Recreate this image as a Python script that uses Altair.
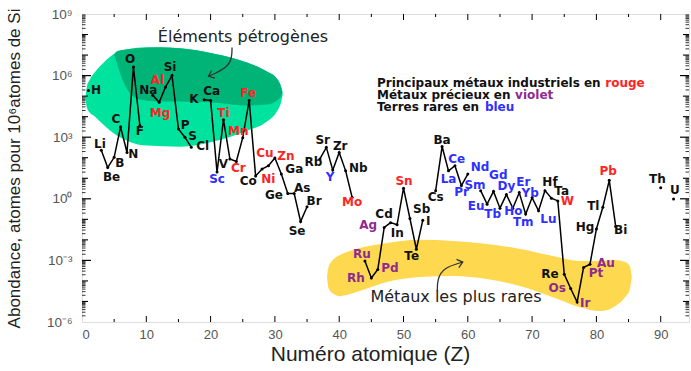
import altair as alt
import pandas as pd

# ---- frame -------------------------------------------------------------
WIDTH, HEIGHT = 607, 308
Z_MAX = 94.4
A_MIN, A_MAX = 1e-6, 1e9
PX_PER_Z = WIDTH / Z_MAX
PX_PER_DECADE = HEIGHT / 15

# ---- crustal abundance, atoms per 10^6 atoms of Si -----------------------
symbols = ["H", "Li", "Be", "B", "C", "N", "O", "F",
           "Na", "Mg", "Al", "Si", "P", "S", "Cl",
           "K", "Ca", "Sc", "Ti", "V", "Cr", "Mn", "Fe", "Co", "Ni", "Cu", "Zn",
           "Ga", "Ge", "As", "Se", "Br",
           "Rb", "Sr", "Y", "Zr", "Nb", "Mo",
           "Ru", "Rh", "Pd", "Ag", "Cd", "In", "Sn", "Sb", "Te", "I",
           "Cs", "Ba", "La", "Ce", "Pr", "Nd",
           "Sm", "Eu", "Gd", "Tb", "Dy", "Ho", "Er", "Tm", "Yb", "Lu",
           "Hf", "Ta", "W", "Re", "Os", "Ir", "Pt", "Au", "Hg", "Tl", "Pb", "Bi",
           "Th", "U"]
atomic_numbers = [1, 3, 4, 5, 6, 7, 8, 9,
                  11, 12, 13, 14, 15, 16, 17,
                  19, 20, 21, 22, 23, 24, 25, 26, 27, 28, 29, 30,
                  31, 32, 33, 34, 35,
                  37, 38, 39, 40, 41, 42,
                  44, 45, 46, 47, 48, 49, 50, 51, 52, 53,
                  55, 56, 57, 58, 59, 60,
                  62, 63, 64, 65, 66, 67, 68, 69, 70, 71,
                  72, 73, 74, 75, 76, 77, 78, 79, 80, 81, 82, 83,
                  90, 92]
abundances = [1.9e5, 230, 33, 105, 3.2e3, 180, 2.6e6, 3.7e3,
              1.1e5, 5.0e4, 2.8e5, 1.0e6, 2.5e3, 1.0e3, 320,
              6.6e4, 6.2e4, 20, 7.1e3, 87, 66, 950, 6.2e4, 13, 28, 41, 98,
              16, 1.8, 1.8, 0.078, 0.41,
              87, 320, 25, 180, 23, 1.2,
              9.3e-4, 1.4e-4, 3.6e-4, 0.040, 0.069, 0.054, 3.3, 0.11, 3.5e-3, 0.091,
              2.5, 350, 23, 41, 4.4, 16,
              2.5, 0.55, 2.3, 0.35, 1.6, 0.35, 2.0, 0.18, 1.15, 0.26,
              2.5, 1.07, 0.79, 2.1e-4, 4.3e-5, 9.3e-6, 4.5e-4, 6.5e-4, 0.034, 0.39, 7.9, 0.045,
              3.5, 0.98]

industrial = {"Mg", "Al", "Ti", "Cr", "Mn", "Fe", "Ni", "Cu", "Zn", "Mo", "Sn", "W", "Pb"}
precious = {"Ru", "Rh", "Pd", "Ag", "Os", "Ir", "Pt", "Au"}
rare_earths = {"Sc", "Y", "La", "Ce", "Pr", "Nd", "Sm", "Eu", "Gd", "Tb", "Dy",
               "Ho", "Er", "Tm", "Yb", "Lu"}

RED, VIOLET, BLUE, INK = "#ff2424", "#8f2a90", "#3030ff", "#111111"

# label placement around each point, in pixels (dx right, dy down)
label_offsets = {
    "H": (7.6, 0), "Li": (-1.3, -6.5), "Be": (3.8, 9.5), "B": (5.8, 5.5),
    "C": (-4.6, -8), "N": (6.3, 2), "O": (-3.4, -8.5), "F": (0, 5),
    "Na": (-4.4, -5.7), "Mg": (0.8, 11), "Al": (-8.3, -7), "Si": (-2, -8.5),
    "P": (6.8, -4.4), "S": (7.8, -1.6), "Cl": (11.4, -1.8),
    "K": (-10.2, -1), "Ca": (1, -9.3), "Sc": (0, 6.7), "Ti": (0, -6.5),
    "V": (-6.6, 5), "Cr": (2, 6.6), "Mn": (-4.5, -6.6), "Fe": (-1, -7.3),
    "Co": (-7.3, 5), "Ni": (6.3, 10), "Cu": (-3.5, -12.3), "Zn": (11, -2.3),
    "Ga": (13, -5), "Ge": (-13.8, 1.3), "As": (8, -6), "Se": (-3.6, 9),
    "Br": (7, -5.3), "Rb": (-6.6, 3.4), "Sr": (-3.6, -7.3), "Y": (-2.8, 6.7),
    "Zr": (1, -6.7), "Nb": (12.7, -2.7), "Mo": (0, 5),
    "Ru": (-3, -6.7), "Rh": (-15.4, 0), "Pd": (12.2, -1.7), "Ag": (-16, -2.7),
    "Cd": (-6.6, -8.4), "In": (0.3, 7.7), "Sn": (0.5, -7.4), "Sb": (11.8, -9.7),
    "Te": (-4.7, 6.6), "I": (5.5, 0.7),
    "Cs": (0, 6.7), "Ba": (0, -6.7), "La": (0, 8.3), "Ce": (1.8, -6.7),
    "Pr": (0.3, 6.7), "Nd": (12.2, -6.6),
    "Sm": (-5.7, -6), "Eu": (-11, 1.7), "Gd": (4.8, -16), "Tb": (-7.3, 6),
    "Dy": (0, -9), "Ho": (0.5, 3.3), "Er": (4, -11), "Tm": (-2.4, 8.3),
    "Yb": (-2, -5), "Lu": (9.8, 8.2),
    "Hf": (5, -8.3), "Ta": (10.3, -7.4), "W": (9.5, 0), "Re": (-14.3, 0),
    "Os": (-13.4, 0), "Ir": (8, 0.6), "Pt": (12.5, 5), "Au": (16, -1),
    "Hg": (-11.4, -2.3), "Tl": (-9.5, -1), "Pb": (-1, -9.4), "Bi": (5, 4),
    "Th": (-3.4, -8.4), "U": (1.4, -9.4),
}


def label_color(sym):
    if sym in industrial:
        return RED
    if sym in precious:
        return VIOLET
    if sym in rare_earths:
        return BLUE
    return INK


df = pd.DataFrame({"sym": symbols, "z": atomic_numbers, "abund": abundances})
df["seg"] = (df["z"].diff().fillna(1) > 1).cumsum()
df["dx"] = df["sym"].map(lambda s: label_offsets[s][0])
df["dy"] = df["sym"].map(lambda s: label_offsets[s][1])
df["lz"] = df["z"] + df["dx"] / PX_PER_Z
df["la"] = df["abund"] * 10 ** (-df["dy"] / PX_PER_DECADE)
df["color"] = df["sym"].map(label_color)

# ---- highlighted regions (Z, log10 upper, log10 lower) ------------------
rock_z = [0.55, 0.75, 1.2, 2.0, 2.8, 4.82, 7.0, 10.1, 15.24, 20.37, 25.66, 28.77, 30.3, 30.95, 31.2]
rock_top = [4.95, 5.45, 5.8, 6.16, 6.45, 7.03, 7.28, 7.38, 7.33, 7.08, 6.64, 6.20, 5.86, 5.47, 5.08]
rock_bot = [4.95, 4.45, 4.2, 4.01, 3.76, 3.22, 2.83, 2.59, 2.54, 2.78, 3.32, 3.76, 4.25, 4.69, 5.05]

major_z = [4.98, 5.44, 6.22, 7.47, 9.02, 12.13, 15.24, 20.37, 25.66, 28.77, 30.3, 30.95, 31.2]
major_top = [7.03, 7.18, 7.25, 7.30, 7.35, 7.38, 7.33, 7.08, 6.64, 6.20, 5.86, 5.47, 5.20]
major_bot = [7.03, 6.59, 5.86, 5.13, 4.84, 4.74, 4.74, 4.69, 4.54, 4.59, 4.79, 4.98, 5.20]

rare_z = [38.1, 38.34, 38.88, 40.12, 41.68, 44.0, 47.43, 52.57, 57.7, 62.99, 68.12,
          73.25, 77.45, 80.56, 82.9, 84.45, 85.2, 85.5]
rare_top = [-3.81, -3.32, -3.03, -2.74, -2.54, -2.34, -2.15, -2.0, -2.05, -2.20, -2.44,
            -2.78, -3.03, -3.03, -2.98, -3.08, -3.27, -3.81]
rare_bot = [-3.81, -4.35, -4.59, -4.74, -4.64, -4.40, -4.05, -3.81, -3.76, -3.91, -4.25,
            -4.79, -5.28, -5.47, -5.23, -4.79, -4.40, -3.81]

# arrow paths (Z, log10)
arrow1_z = [23.33, 23.33, 22.55, 19.67]
arrow1_l = [7.37, 6.85, 6.37, 5.96]
arrow2_z = [55.26, 55.26, 56.19, 59.21]
arrow2_l = [-4.49, -3.92, -3.36, -3.08]

x_scale = alt.Scale(domain=[0, Z_MAX], nice=False, zero=False)
y_scale = alt.Scale(type="log", domain=[A_MIN, A_MAX], nice=False)

x_axis = alt.Axis(values=list(range(0, 100, 10)), ticks=False, domain=False, grid=False,
                  labelFont="Liberation Sans", labelFontSize=13, labelColor="#555555",
                  labelPadding=6, title="Numéro atomique (Z)", titleFont="Liberation Sans",
                  titleFontSize=21, titleFontWeight="normal", titleColor="#222222",
                  titleX=288, titleY=32, titleBaseline="middle")
y_axis = alt.Axis(values=[1e-6, 1e-3, 1, 1e3, 1e6, 1e9], ticks=False, domain=False, grid=False,
                  labelExpr="datum.value >= 1e8 ? '10⁹' : datum.value >= 1e5 ? '10⁶' : "
                            "datum.value >= 100 ? '10³' : datum.value >= 0.1 ? '10⁰' : "
                            "datum.value >= 1e-4 ? '10⁻³' : '10⁻⁶'",
                  labelFont="Liberation Sans", labelFontSize=13.5, labelColor="#555555",
                  labelPadding=10, title="Abondance, atomes pour 10⁶atomes de Si",
                  titleFont="Liberation Sans", titleFontSize=17,
                  titleFontWeight="normal", titleColor="#222222", titleAngle=270,
                  titleX=-68, titleY=154, titleAlign="center", titleBaseline="middle")


def X(field):
    return alt.X(field, type="quantitative", scale=x_scale, axis=x_axis)


def Y(field):
    return alt.Y(field, type="quantitative", scale=y_scale, axis=y_axis)


def region(zs, tops, bots, color):
    d = pd.DataFrame({"z": zs, "top": [10 ** t for t in tops], "bot": [10 ** b for b in bots]})
    return alt.Chart(d).mark_area(color=color, interpolate="monotone", opacity=1).encode(
        x=X("z"), y=Y("top"), y2="bot")


def arrow(zs, ls, angle):
    d = pd.DataFrame({"i": range(len(zs)), "z": zs, "a": [10 ** v for v in ls]})
    path = alt.Chart(d).mark_line(interpolate="basis", color="#333333", strokeWidth=1.3).encode(
        x=X("z"), y=Y("a"), order="i:Q")
    head = alt.Chart(d.tail(1)).mark_point(
        shape="M -1 -0.8 L 0 0 L -1 0.8", size=110, angle=angle, filled=False,
        color="#333333", strokeWidth=1.3, opacity=1).encode(x=X("z"), y=Y("a"))
    return [path, head]


def text_at(txt, px, py, color="#111111", size=13, align="left", weight="bold"):
    return alt.Chart(pd.DataFrame({"t": [txt]})).mark_text(
        font="DejaVu Sans", fontSize=size, fontWeight=weight, align=align,
        baseline="middle", color=color).encode(
        text="t:N", x=alt.value(px - 82), y=alt.value(py - 14))


# ---- tick marks drawn inside the frame ------------------------------------
x_major = list(range(10, 91, 10))
x_minor = list(range(5, 90, 10))
y_major = [1e-3, 1, 1e3, 1e6]
y_decade = [10.0 ** d for d in range(-5, 9) if d % 3 != 0]
y_minor = [k * 10.0 ** d for d in range(-6, 9) for k in range(2, 10)]


def x_ticks(vals, length):
    d = pd.DataFrame({"v": vals})
    base = alt.Chart(d).mark_rule(color="black", strokeWidth=1)
    return [base.encode(x=X("v"), y=alt.value(HEIGHT), y2=alt.value(HEIGHT - length)),
            base.encode(x=X("v"), y=alt.value(0), y2=alt.value(length))]


def y_ticks(vals, length, width):
    d = pd.DataFrame({"v": vals})
    base = alt.Chart(d).mark_rule(color="black", strokeWidth=width)
    return [base.encode(y=Y("v"), x=alt.value(0), x2=alt.value(length)),
            base.encode(y=Y("v"), x=alt.value(WIDTH), x2=alt.value(WIDTH - length))]


layers = [
    region(rock_z, rock_top, rock_bot, "#00e39e"),
    region(major_z, major_top, major_bot, "#00b478"),
    region(rare_z, rare_top, rare_bot, "#fed84f"),
]
layers += x_ticks(x_major, 6) + x_ticks(x_minor, 3)
layers += y_ticks(y_major, 9, 1.2) + y_ticks(y_decade, 6, 1.1) + y_ticks(y_minor, 3.5, 0.8)
layers += arrow(arrow1_z, arrow1_l, 156) + arrow(arrow2_z, arrow2_l, 344)

abund_line = alt.Chart(df).mark_line(color="black", strokeWidth=1.5).encode(
    x=X("z"), y=Y("abund"), detail="seg:N")
abund_pts = alt.Chart(df).mark_circle(color="black", size=9, opacity=1).encode(
    x=X("z"), y=Y("abund"))
sym_labels = alt.Chart(df).mark_text(font="DejaVu Sans", fontSize=12, fontWeight="bold",
                                     baseline="middle", align="center").encode(
    x=X("lz"), y=Y("la"), text="sym:N", color=alt.Color("color:N", scale=None))
layers += [abund_line, abund_pts, sym_labels]

# key lines: a black lead-in followed by the coloured word (bold DejaVu advances)
KEY_SIZE = 12
KEY_X = 377
layers += [
    text_at("Éléments pétrogènes", 243, 37, "#222222", 16, "center", "normal"),
    text_at("Métaux les plus rares", 456, 297, "#222222", 16, "center", "normal"),
    text_at("Principaux métaux industriels en", KEY_X, 83, size=KEY_SIZE),
    text_at("rouge", KEY_X + 19.02 * KEY_SIZE, 83, RED, KEY_SIZE),
    text_at("Métaux précieux en", KEY_X, 95, size=KEY_SIZE),
    text_at("violet", KEY_X + 11.51 * KEY_SIZE, 95, VIOLET, KEY_SIZE),
    text_at("Terres rares en", KEY_X, 107, size=KEY_SIZE),
    text_at("bleu", KEY_X + 8.99 * KEY_SIZE, 107, BLUE, KEY_SIZE),
]

chart = alt.layer(*layers).properties(
    width=WIDTH, height=HEIGHT,
    padding={"left": 82, "top": 14, "right": 2, "bottom": 49},
    autosize=alt.AutoSizeParams(type="none"),
).configure_view(stroke="black", strokeWidth=1.6).configure(background="white")

chart.save("out.html", embed_options={"renderer": "svg", "actions": False})
